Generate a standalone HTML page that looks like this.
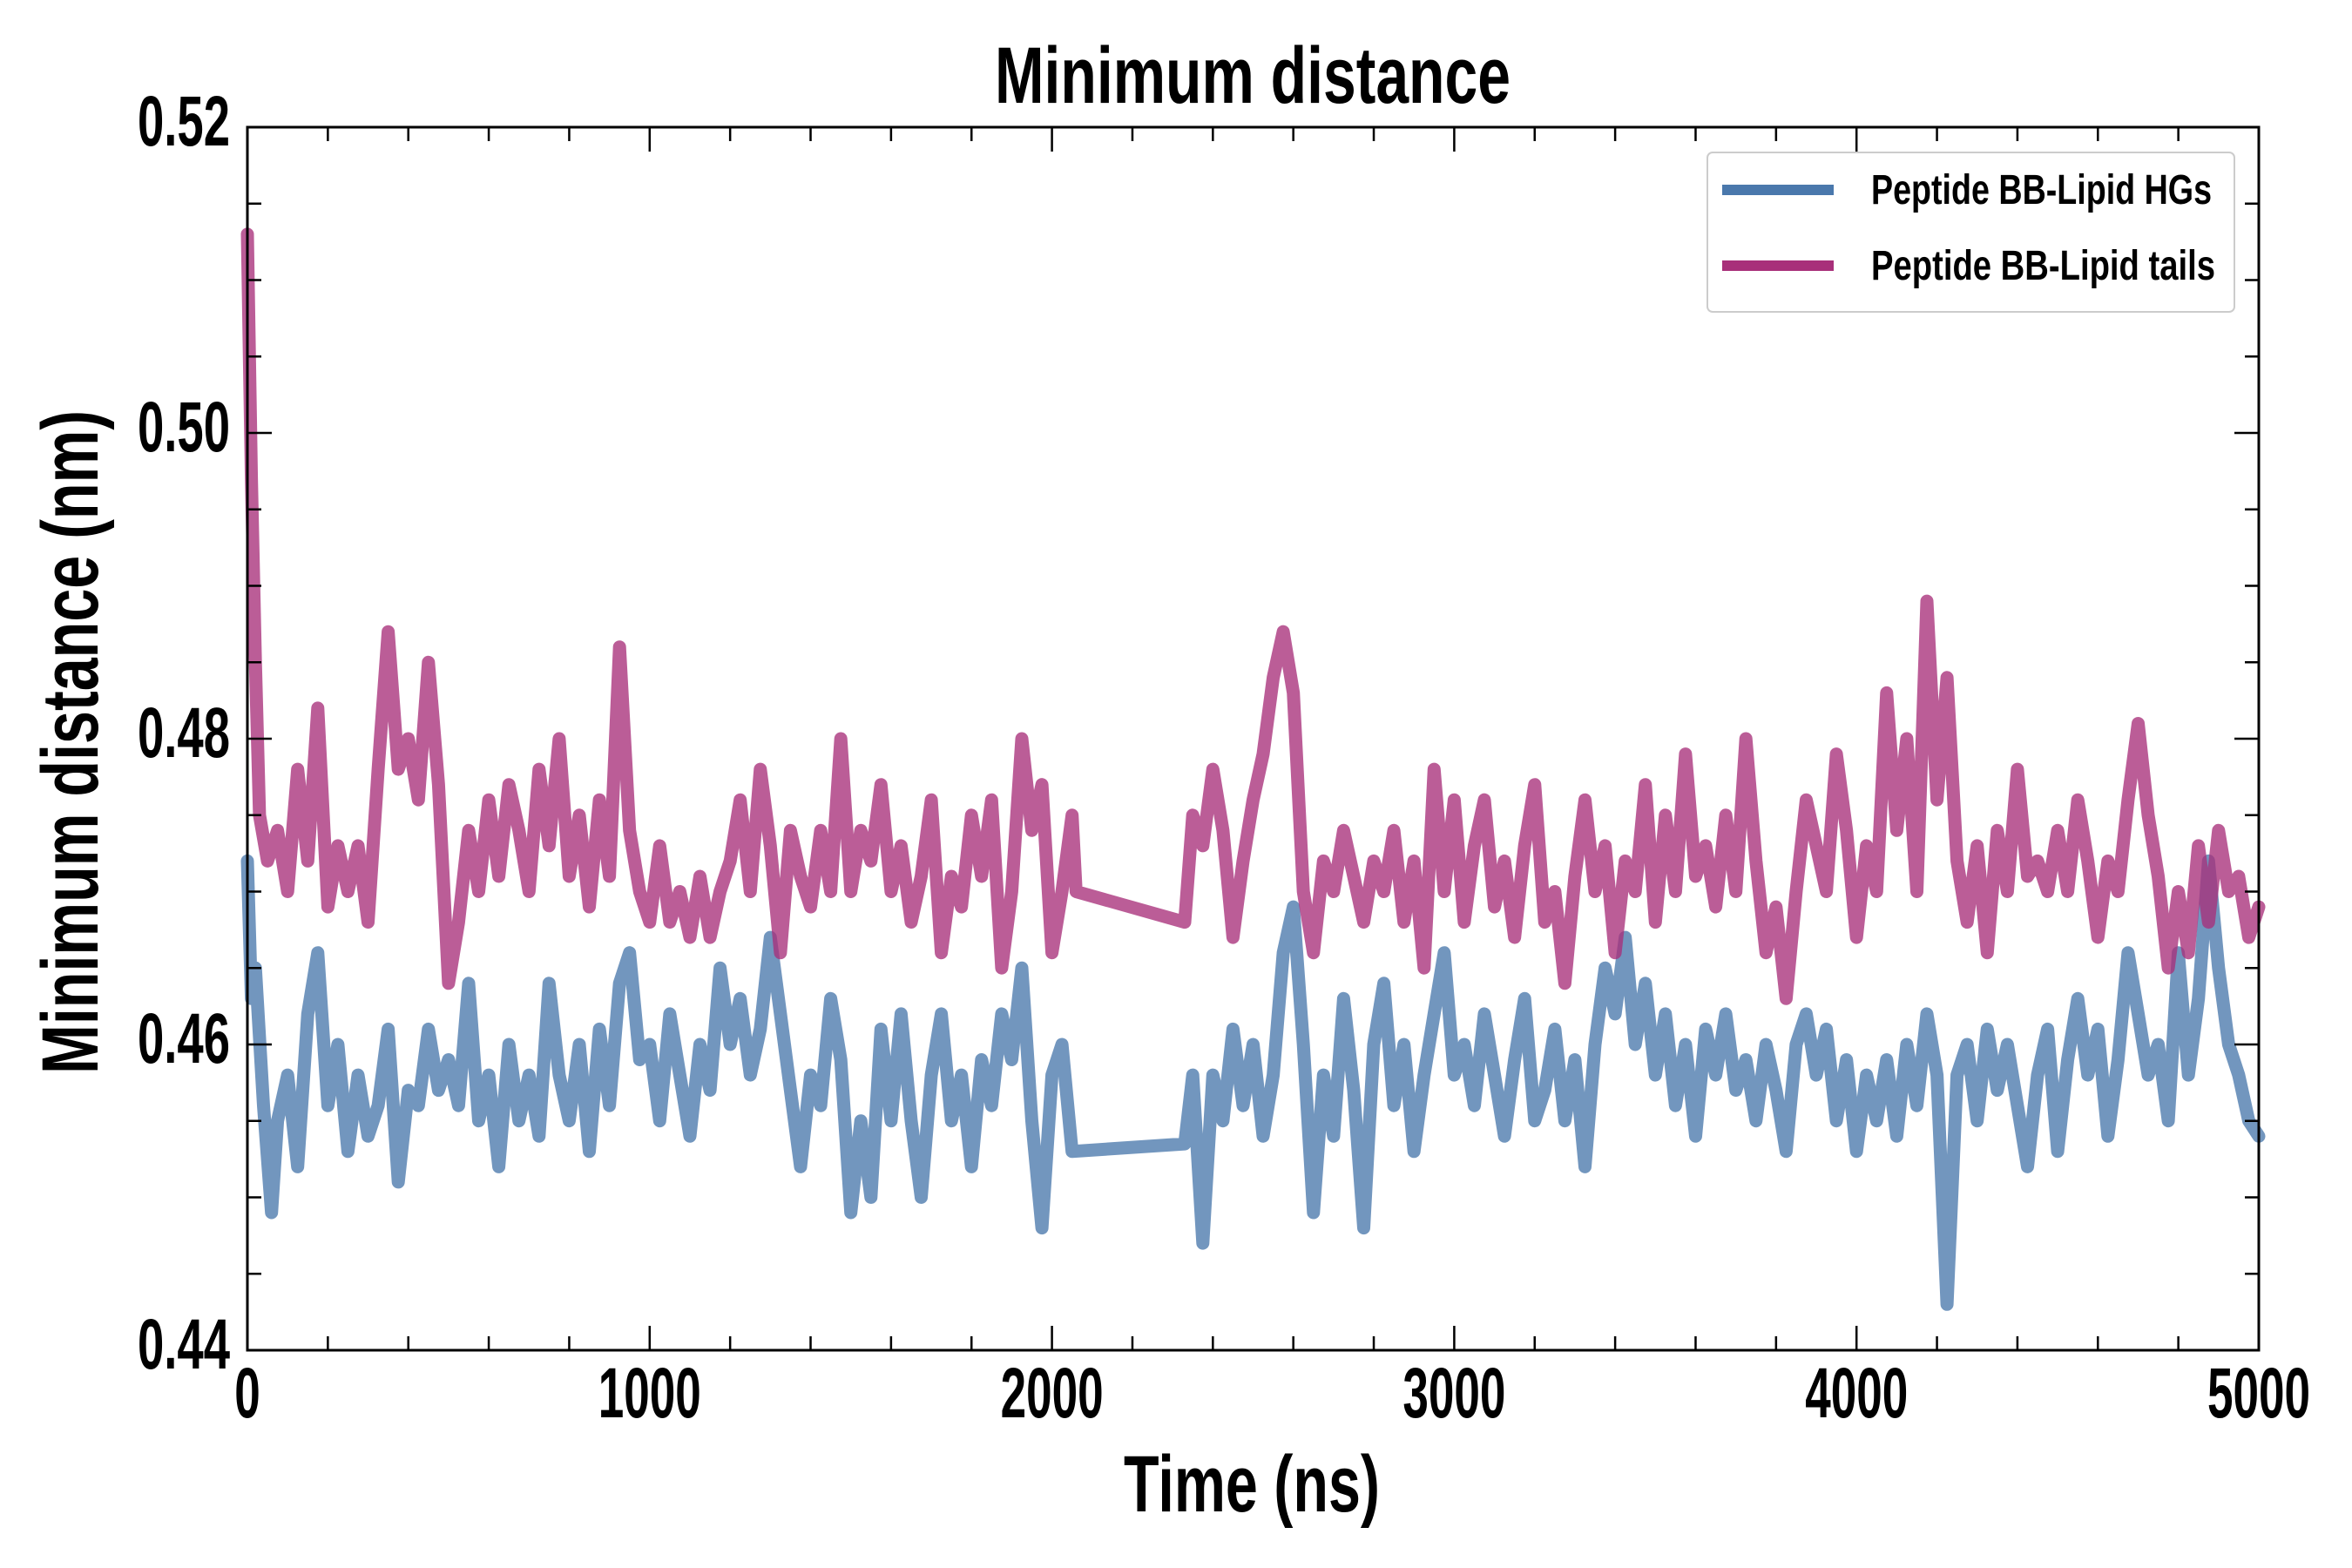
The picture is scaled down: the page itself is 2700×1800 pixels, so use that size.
<!DOCTYPE html>
<html><head><meta charset="utf-8"><style>
html,body{margin:0;padding:0;background:#fff;}
svg{display:block;}
text{font-family:"Liberation Sans Narrow","Liberation Sans",sans-serif;font-weight:bold;fill:#000;}
</style></head><body>
<svg id="chart" width="2700" height="1800" viewBox="0 0 2700 1800" xmlns="http://www.w3.org/2000/svg">
<rect width="2700" height="1800" fill="#fff"/>
<text x="1438" y="118" font-size="92" text-anchor="middle" textLength="592" lengthAdjust="spacingAndGlyphs">Minimum distance</text>
<text x="1437" y="1735" font-size="92" text-anchor="middle" textLength="294" lengthAdjust="spacingAndGlyphs">Time (ns)</text>
<text transform="translate(112,852) rotate(-90)" font-size="92" text-anchor="middle" textLength="762" lengthAdjust="spacingAndGlyphs">Minimum distance (nm)</text>
<g id="series"></g>
<g id="axes"></g>
<g id="legend">
<rect x="1960" y="175" width="605" height="183" rx="6" fill="#fff" fill-opacity="0.8" stroke="#ccc" stroke-width="2"/>
<line x1="1977" y1="218" x2="2105" y2="218" stroke="#4a78ac" stroke-width="12"/>
<text x="2148" y="234" font-size="48" textLength="391" lengthAdjust="spacingAndGlyphs">Peptide BB-Lipid HGs</text>
<line x1="1977" y1="305" x2="2105" y2="305" stroke="#a8307a" stroke-width="12"/>
<text x="2148" y="321" font-size="48" textLength="395" lengthAdjust="spacingAndGlyphs">Peptide BB-Lipid tails</text>
</g>
</svg>
<script>
const tailsT=[0,10,20,30,50,75,100,125,150,175,200,225,250,275,300,325,350,375,400,425,450,475,500,525,550,575,600,625,650,675,700,725,750,775,800,825,850,875,900,925,950,975,1000,1025,1050,1075,1100,1125,1150,1175,1200,1225,1250,1275,1300,1325,1350,1375,1400,1425,1450,1475,1500,1525,1550,1575,1600,1625,1650,1675,1700,1725,1750,1775,1800,1825,1850,1875,1900,1925,1950,1975,2000,2025,2050,2060,2330,2350,2375,2400,2425,2450,2475,2500,2525,2550,2575,2600,2625,2650,2675,2700,2725,2750,2775,2800,2825,2850,2875,2900,2925,2950,2975,3000,3025,3050,3075,3100,3125,3150,3175,3200,3225,3250,3275,3300,3325,3350,3375,3400,3425,3450,3475,3500,3525,3550,3575,3600,3625,3650,3675,3700,3725,3750,3775,3800,3825,3850,3875,3900,3925,3950,3975,4000,4025,4050,4075,4100,4125,4150,4175,4200,4225,4250,4275,4300,4325,4350,4375,4400,4425,4450,4475,4500,4525,4550,4575,4600,4625,4650,4675,4700,4725,4750,4775,4800,4825,4850,4875,4900,4925,4950,4975,5000];
const tailsV=[0.513,0.497,0.485,0.475,0.472,0.474,0.470,0.478,0.472,0.482,0.469,0.473,0.470,0.473,0.468,0.478,0.487,0.478,0.480,0.476,0.485,0.477,0.464,0.468,0.474,0.470,0.476,0.471,0.477,0.474,0.470,0.478,0.473,0.480,0.471,0.475,0.469,0.476,0.471,0.486,0.474,0.470,0.468,0.473,0.468,0.470,0.467,0.471,0.467,0.470,0.472,0.476,0.470,0.478,0.473,0.466,0.474,0.471,0.469,0.474,0.470,0.480,0.470,0.474,0.472,0.477,0.470,0.473,0.468,0.471,0.476,0.466,0.471,0.469,0.475,0.471,0.476,0.465,0.470,0.480,0.474,0.477,0.466,0.470,0.475,0.470,0.468,0.475,0.473,0.478,0.474,0.467,0.472,0.476,0.479,0.484,0.487,0.483,0.470,0.466,0.472,0.470,0.474,0.471,0.468,0.472,0.470,0.474,0.468,0.472,0.465,0.478,0.470,0.476,0.468,0.473,0.476,0.469,0.472,0.467,0.473,0.477,0.468,0.470,0.464,0.471,0.476,0.470,0.473,0.466,0.472,0.470,0.477,0.468,0.475,0.470,0.479,0.471,0.473,0.469,0.475,0.470,0.480,0.472,0.466,0.469,0.463,0.470,0.476,0.473,0.470,0.479,0.474,0.467,0.473,0.470,0.483,0.474,0.480,0.470,0.489,0.476,0.484,0.472,0.468,0.473,0.466,0.474,0.470,0.478,0.471,0.472,0.470,0.474,0.470,0.476,0.472,0.467,0.472,0.470,0.476,0.481,0.475,0.471,0.465,0.470,0.466,0.473,0.468,0.474,0.470,0.471,0.467,0.469];
const hgsT=[0,10,20,40,60,75,100,125,150,175,200,225,250,275,300,325,350,375,400,425,450,475,500,525,550,575,600,625,650,675,700,725,750,775,800,825,850,875,900,925,950,975,1000,1025,1050,1075,1100,1125,1150,1175,1200,1225,1250,1275,1300,1325,1350,1375,1400,1425,1450,1475,1500,1525,1550,1575,1600,1625,1650,1675,1700,1725,1750,1775,1800,1825,1850,1875,1900,1925,1950,1975,2000,2025,2050,2330,2350,2375,2400,2425,2450,2475,2500,2525,2550,2575,2600,2625,2650,2675,2700,2725,2750,2775,2800,2825,2850,2875,2900,2925,2950,2975,3000,3025,3050,3075,3100,3125,3150,3175,3200,3225,3250,3275,3300,3325,3350,3375,3400,3425,3450,3475,3500,3525,3550,3575,3600,3625,3650,3675,3700,3725,3750,3775,3800,3825,3850,3875,3900,3925,3950,3975,4000,4025,4050,4075,4100,4125,4150,4175,4200,4225,4250,4275,4300,4325,4350,4375,4400,4425,4450,4475,4500,4525,4550,4575,4600,4625,4650,4675,4700,4725,4750,4775,4800,4825,4850,4875,4900,4925,4950,4975,5000];
const hgsV=[0.472,0.463,0.465,0.456,0.449,0.455,0.458,0.452,0.462,0.466,0.456,0.460,0.453,0.458,0.454,0.456,0.461,0.451,0.457,0.456,0.461,0.457,0.459,0.456,0.464,0.455,0.458,0.452,0.460,0.455,0.458,0.454,0.464,0.458,0.455,0.460,0.453,0.461,0.456,0.464,0.466,0.459,0.460,0.455,0.462,0.458,0.454,0.460,0.457,0.465,0.460,0.463,0.458,0.461,0.467,0.462,0.457,0.452,0.458,0.456,0.463,0.459,0.449,0.455,0.450,0.461,0.455,0.462,0.455,0.450,0.458,0.462,0.455,0.458,0.452,0.459,0.456,0.462,0.459,0.465,0.455,0.448,0.458,0.460,0.453,0.4535,0.458,0.447,0.458,0.455,0.461,0.456,0.460,0.454,0.458,0.466,0.469,0.460,0.449,0.458,0.454,0.463,0.457,0.448,0.460,0.464,0.456,0.460,0.453,0.458,0.462,0.466,0.458,0.460,0.456,0.462,0.458,0.454,0.459,0.463,0.455,0.457,0.461,0.455,0.459,0.452,0.460,0.465,0.462,0.467,0.460,0.464,0.458,0.462,0.456,0.460,0.454,0.461,0.458,0.462,0.457,0.459,0.455,0.460,0.457,0.453,0.460,0.462,0.458,0.461,0.455,0.459,0.453,0.458,0.455,0.459,0.454,0.460,0.456,0.462,0.458,0.443,0.458,0.460,0.455,0.461,0.457,0.460,0.456,0.452,0.458,0.461,0.453,0.459,0.463,0.458,0.461,0.454,0.459,0.466,0.462,0.458,0.460,0.455,0.466,0.458,0.463,0.472,0.465,0.460,0.458,0.455,0.454];
const xTicks=[0,1000,2000,3000,4000,5000];
const xTickLabels=["0","1000","2000","3000","4000","5000"];
const yTicks=[0.44,0.46,0.48,0.50,0.52];
const yTickLabels=["0.44","0.46","0.48","0.50","0.52"];

const L=284,R=2593,T=146,B=1550;
const X0=0,X1=5000,Y0=0.44,Y1=0.52;
function sx(v){return L+(v-X0)/(X1-X0)*(R-L);}
function sy(v){return B-(v-Y0)/(Y1-Y0)*(B-T);}
const NS="http://www.w3.org/2000/svg";
function mk(tag,attrs,parent){const e=document.createElementNS(NS,tag);for(const k in attrs)e.setAttribute(k,attrs[k]);parent.appendChild(e);return e;}

const sg=document.getElementById('series');
function drawSeries(ts,vs,color,name){
  let d='';
  for(let i=0;i<ts.length;i++){d+=(i?'L':'M')+sx(ts[i]).toFixed(1)+','+sy(vs[i]).toFixed(1);}
  const p=mk('path',{d:d,fill:'none',stroke:color,'stroke-width':15,'stroke-opacity':0.78,'stroke-linejoin':'round','stroke-linecap':'round'},sg);
  
  
}
drawSeries(hgsT,hgsV,'#4a78ac','series-hgs-line');
drawSeries(tailsT,tailsV,'#a8307a','series-tails-line');

const ag=document.getElementById('axes');
const frame=mk('rect',{x:L,y:T,width:R-L,height:B-T,fill:'none',stroke:'#000','stroke-width':3},ag);


for(let v=X0;v<=X1;v+=200){
  const major=(v%1000===0);const len=major?28:16;
  const x=sx(v);
  const t1=mk('line',{x1:x,y1:B,x2:x,y2:B-len,stroke:'#000','stroke-width':2.5},ag);
  
  
  const t2=mk('line',{x1:x,y1:T,x2:x,y2:T+len,stroke:'#000','stroke-width':2.5},ag);
  
  
}
for(let i=0;i<=16;i++){
  const v=Y0+i*0.005;const major=(i%4===0);const len=major?28:16;
  const y=sy(v);
  const t1=mk('line',{x1:L,y1:y,x2:L+len,y2:y,stroke:'#000','stroke-width':2.5},ag);
  
  
  const t2=mk('line',{x1:R,y1:y,x2:R-len,y2:y,stroke:'#000','stroke-width':2.5},ag);
  
  
}
xTicks.forEach((v,i)=>{
  const s=xTickLabels[i];
  const t=mk('text',{x:sx(v),y:1627,'font-size':82,'text-anchor':'middle',textLength:s.length*29.5,lengthAdjust:'spacingAndGlyphs'},ag);
  t.textContent=s;
  
  
});
yTicks.forEach((v,i)=>{
  const s=yTickLabels[i];
  const t=mk('text',{x:264,y:sy(v)+21,'font-size':82,'text-anchor':'end',textLength:106,lengthAdjust:'spacingAndGlyphs'},ag);
  t.textContent=s;
  
  
});
</script>
</body></html>
